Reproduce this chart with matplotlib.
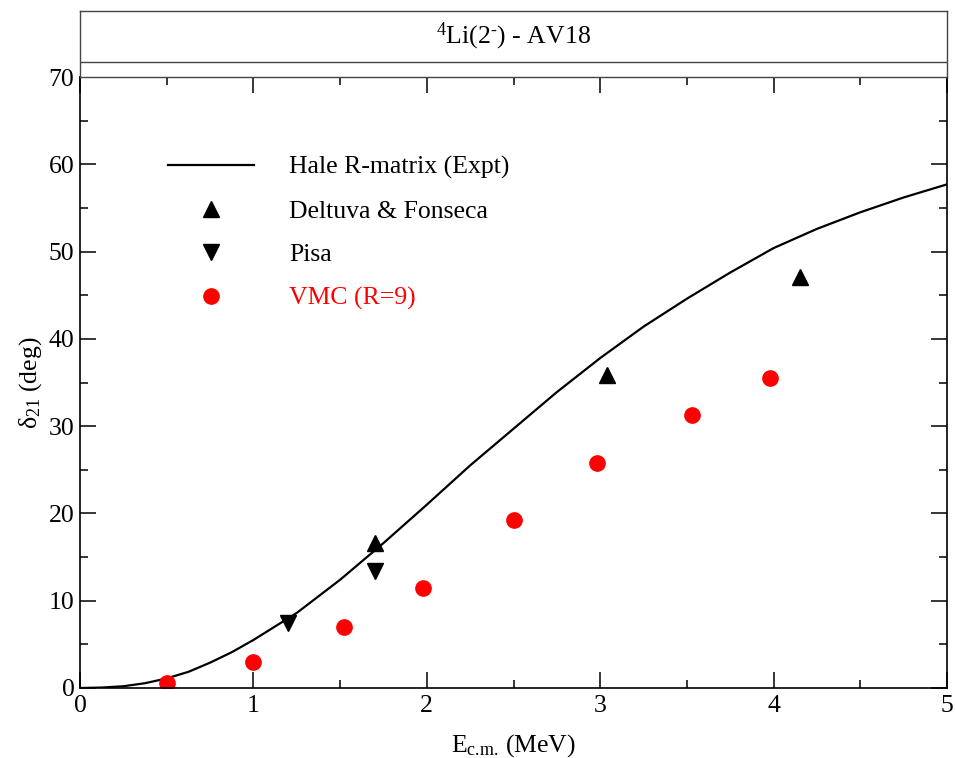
import matplotlib
matplotlib.use('Agg')
import matplotlib.pyplot as plt

plt.rcParams['font.family'] = ['Liberation Serif', 'DejaVu Serif']
plt.rcParams['mathtext.fontset'] = 'custom'
plt.rcParams['mathtext.rm'] = 'Liberation Serif'
plt.rcParams['mathtext.it'] = 'Liberation Serif:italic'

# Hale R-matrix (Expt) curve
hale_e = [0.0, 0.125, 0.25, 0.375, 0.5, 0.625, 0.75, 0.875, 1.0, 1.25, 1.5, 1.75,
          2.0, 2.25, 2.5, 2.75, 3.0, 3.25, 3.5, 3.75, 4.0, 4.25, 4.5, 4.75, 5.0]
hale_d = [0.0, 0.05, 0.2, 0.55, 1.1, 1.85, 2.9, 4.1, 5.5, 8.6, 12.4, 16.6,
          21.0, 25.5, 29.7, 33.9, 37.8, 41.4, 44.6, 47.6, 50.4, 52.6, 54.5, 56.2, 57.7]

deltuva_e = [1.70, 3.04, 4.15]
deltuva_d = [16.6, 35.9, 47.1]

pisa_e = [1.20, 1.70]
pisa_d = [7.5, 13.4]

vmc_e = [0.50, 1.00, 1.52, 1.98, 2.50, 2.98, 3.53, 3.98]
vmc_d = [0.6, 3.0, 7.0, 11.4, 19.2, 25.8, 31.3, 35.5]

W, H = 955, 758
fig = plt.figure(figsize=(W / 100, H / 100), dpi=100)

L, R, T, B = 80, 947, 77, 688
ax = fig.add_axes([L / W, 1 - B / H, (R - L) / W, (B - T) / H])

ax.plot(hale_e, hale_d, color='black', lw=1.6, label='Hale R-matrix (Expt)')
ax.plot(deltuva_e, deltuva_d, ls='none', marker='^', ms=12, color='black',
        label='Deltuva & Fonseca')
ax.plot(pisa_e, pisa_d, ls='none', marker='v', ms=12, color='black', label='Pisa')
ax.plot(vmc_e, vmc_d, ls='none', marker='o', ms=11, color='red', mec='red',
        label='VMC (R=9)')

ax.set_xlim(0, 5)
ax.set_ylim(0, 70)
ax.set_xticks([0, 1, 2, 3, 4, 5])
ax.set_xticks([0.5, 1.5, 2.5, 3.5, 4.5], minor=True)
ax.set_yticks(range(0, 71, 10))
ax.set_yticks(range(5, 70, 10), minor=True)
ax.tick_params(which='both', direction='in', top=True, right=True, labelsize=18.5,
               width=1.1)
ax.tick_params(which='major', length=11.5)
ax.tick_params(which='minor', length=6)
ax.tick_params(axis='x', pad=5)
ax.tick_params(axis='y', pad=4)
for s in ax.spines.values():
    s.set_linewidth(1.2)

ax.set_xlabel('E$_{\\text{c.m.}}$ (MeV)', fontsize=18.5)
ax.xaxis.set_label_coords(0.5, -0.072)
ax.set_ylabel('δ$_{21}$ (deg)', fontsize=18.5)
ax.yaxis.set_label_coords(-0.042, 0.5)

leg = ax.legend(loc='upper left', bbox_to_anchor=(0.09, 0.888), frameon=False,
                fontsize=18.5, handlelength=3.35, handletextpad=1.36, labelspacing=0.8,
                borderaxespad=0)
leg.get_texts()[3].set_color('red')

# title box above the plot
tb = 11
axt = fig.add_axes([L / W, 1 - T / H, (R - L) / W, (T - tb) / H])
axt.set_xticks([])
axt.set_yticks([])
axt.set_xlim(0, 1)
axt.set_ylim(0, 1)
for s in axt.spines.values():
    s.set_linewidth(1.0)
    s.set_color('#444444')
axt.axhline((T - 62) / (T - tb), color='#444444', lw=1.0)
axt.text(0.5, (T - 36) / (T - tb), '$^{4}$Li(2$^{\\text{-}}$) - AV18', ha='center',
         va='center', fontsize=18.5)

fig.savefig('out.png', dpi=100)
